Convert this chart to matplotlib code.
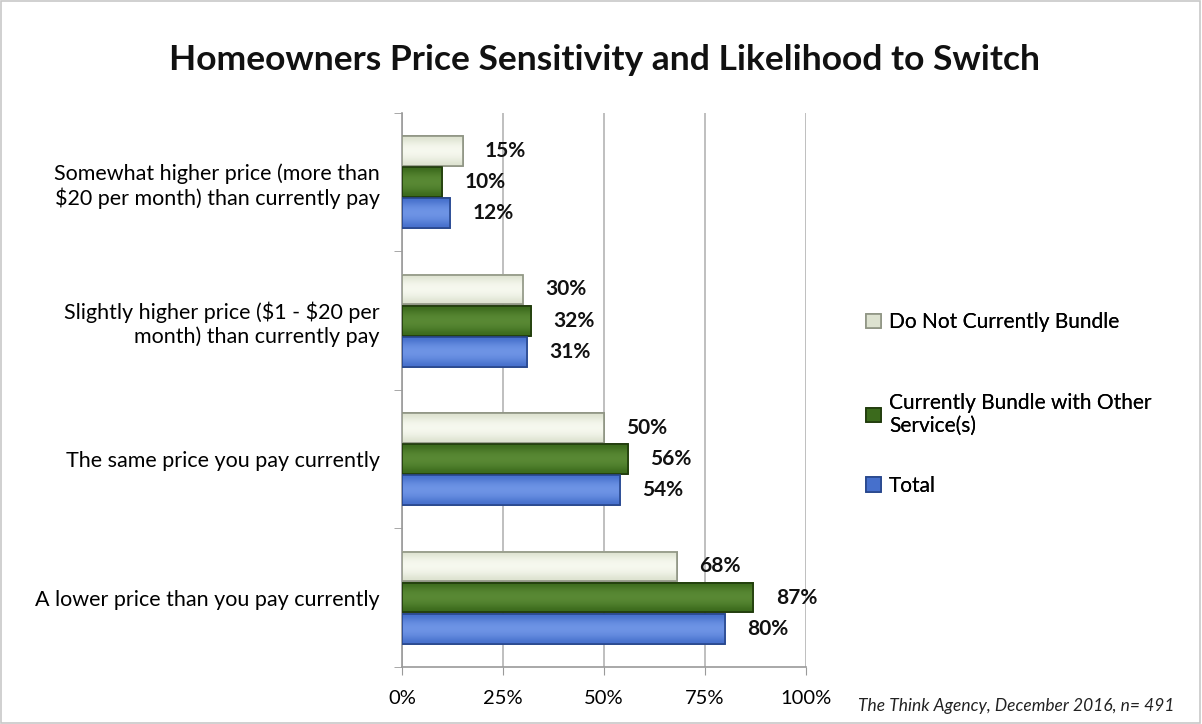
import numpy as np
import matplotlib.pyplot as plt
from matplotlib.patches import Rectangle
from matplotlib.colors import LinearSegmentedColormap
from matplotlib.ticker import FuncFormatter, FixedLocator

categories = [
    "Somewhat higher price (more than\n\\$20 per month) than currently pay",
    "Slightly higher price (\\$1 - \\$20 per\nmonth) than currently pay",
    "The same price you pay currently",
    "A lower price than you pay currently",
]
series_names = ["Do Not Currently Bundle", "Currently Bundle with Other\nService(s)", "Total"]
not_bundle = [15, 30, 50, 68]
bundle = [10, 32, 56, 87]
total = [12, 31, 54, 80]

face_colors = ["#dde2d0", "#3b6a1c", "#4670cc"]
light_colors = ["#f7f9f0", "#5a8a35", "#6f95e6"]
edge_colors = ["#8f9584", "#203a0c", "#28478c"]

plt.rcParams['font.family'] = ['Lato', 'DejaVu Sans']

fig = plt.figure(figsize=(12.02, 7.24), dpi=100)
fig.patches.append(Rectangle((0.001, 0.001), 0.997, 0.997, transform=fig.transFigure,
                             fill=False, edgecolor="#c8c8c8", linewidth=1.2))

ax = fig.add_axes([0.3344, 0.079, 0.3361, 0.765])

n = len(categories)
y = np.arange(n)[::-1].astype(float)  # first category on top
h = 0.215
offsets = [h + 0.01, 0.0, -(h + 0.01)]

# bevel shading: dark at the edges, light in the middle
shade = np.array([0.0, 0.55, 0.9, 1.0, 0.85, 0.5, 0.0]).reshape(-1, 1)

handles = []
for vals, off, fc, lc, ec, name in zip([not_bundle, bundle, total], offsets,
                                       face_colors, light_colors, edge_colors,
                                       series_names):
    bars = ax.barh(y + off, vals, height=h, color=fc, edgecolor=ec,
                   linewidth=1.2, label=name, zorder=3)
    handles.append(bars)
    cmap = LinearSegmentedColormap.from_list("bevel", [fc, lc])
    for b, v in zip(bars, vals):
        y0 = b.get_y()
        ax.imshow(shade, cmap=cmap, aspect="auto", interpolation="bicubic",
                  extent=[0, v, y0, y0 + h], zorder=3.5)
        ax.add_patch(Rectangle((0, y0), v, h, fill=False, edgecolor=ec,
                               linewidth=1.2, zorder=4))
        ax.annotate(f"{v}%", (v, y0 + h / 2),
                    xytext=(16, 0), textcoords="offset points",
                    va="center", ha="left", fontsize=15, fontweight="bold",
                    color="#111111")

ax.set_xlim(0, 100)
ax.set_ylim(-0.5, n - 0.5)
ax.xaxis.set_major_locator(FixedLocator([0, 25, 50, 75, 100]))
ax.xaxis.set_major_formatter(FuncFormatter(lambda v, p: f"{v:.0f}%"))
ax.grid(axis="x", color="#b4b4b4", linewidth=1.2, zorder=0)
ax.set_axisbelow(True)

# category labels at the centres, tick marks at the boundaries
ax.set_yticks(y)
ax.set_yticklabels(categories, fontsize=15.5, ha="right", multialignment="right")
ax.tick_params(axis="y", length=0, pad=16)
ax.set_yticks(np.arange(-0.5, n), minor=True)
ax.tick_params(axis="y", which="minor", length=6, color="#9a9a9a")
ax.tick_params(axis="x", length=6, color="#9a9a9a", labelsize=14.5, pad=11)

for s in ["top", "right"]:
    ax.spines[s].set_visible(False)
for s in ["left", "bottom"]:
    ax.spines[s].set_color("#9a9a9a")
    ax.spines[s].set_linewidth(1.2)

fig.text(0.503, 0.917, "Homeowners Price Sensitivity and Likelihood to Switch",
         ha="center", va="center", fontsize=25.5, fontweight="bold", color="#111111")

# legend entries spread down the right side, one legend per series
legend_y = [0.555, 0.428, 0.329]
for hd, name, ly in zip(handles, series_names, legend_y):
    fig.add_artist(fig.legend([hd], [name], loc="center left",
                              bbox_to_anchor=(0.705, ly), frameon=False,
                              fontsize=15, handlelength=0.7, handleheight=0.7,
                              handletextpad=0.4))

fig.text(0.714, 0.025, "The Think Agency, December 2016, n= 491",
         fontsize=12.5, style="italic", color="#222222", ha="left", va="center")

fig.savefig("out.png", dpi=100)
